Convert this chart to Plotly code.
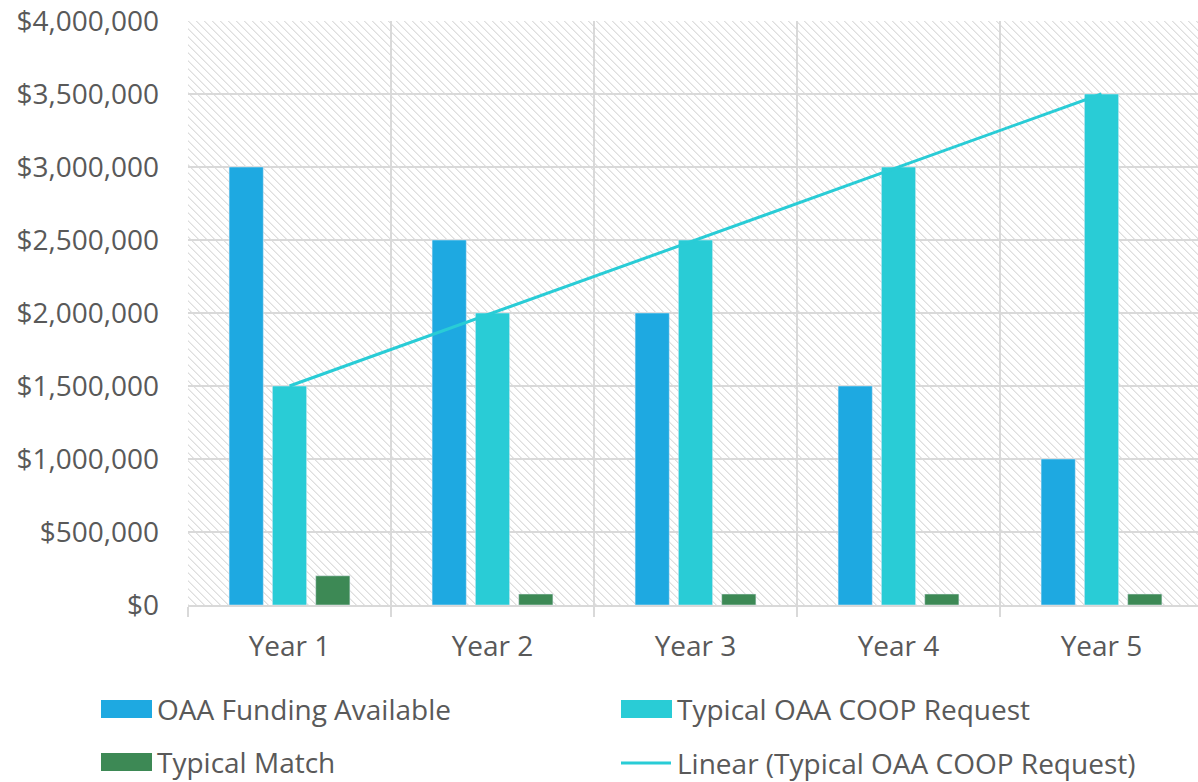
import base64
import numpy as np
import plotly.graph_objects as go

years = ["Year 1", "Year 2", "Year 3", "Year 4", "Year 5"]
oaa_funding = [3000000, 2500000, 2000000, 1500000, 1000000]
coop_request = [1500000, 2000000, 2500000, 3000000, 3500000]
typical_match = [200000, 75000, 75000, 75000, 75000]

BLUE = "#1EA9E1"
CYAN = "#29CCD6"
GREEN = "#3D8955"
GRID = "#D9D9D9"
TEXT = "#595959"
FONT = "Open Sans"

W, H = 1198, 782
L, R, T, B = 188, 0, 21, 177
PW, PH = W - L - R, H - T - B
CAT_W = 203  # pixel width of one category in the reference

# linear trendline computed from the request series
xi = np.arange(len(coop_request))
k, b0 = np.polyfit(xi, coop_request, 1)
trend = list(k * xi + b0)

fig = go.Figure()
fig.add_bar(x=years, y=oaa_funding, name="OAA Funding Available", marker_color=BLUE, showlegend=False)
fig.add_bar(x=years, y=coop_request, name="Typical OAA COOP Request", marker_color=CYAN, showlegend=False)
fig.add_bar(x=years, y=typical_match, name="Typical Match", marker_color=GREEN, showlegend=False)
fig.add_scatter(x=years, y=trend, mode="lines", name="Linear (Typical OAA COOP Request)",
                line=dict(color=CYAN, width=3), showlegend=False)

# hatched plot-area background
rects = []
for i in range(8):
    rects.append(f'<rect x="{i}" y="{i}" width="1" height="1" fill="#DEDEDE"/>')
    rects.append(f'<rect x="{(i+1)%8}" y="{i}" width="1" height="1" fill="#EDEDED"/>')
svg = (f'<svg xmlns="http://www.w3.org/2000/svg" width="{PW}" height="{PH}" shape-rendering="crispEdges">'
       f'<defs><pattern id="p" width="8" height="8" patternUnits="userSpaceOnUse">{"".join(rects)}</pattern></defs>'
       f'<rect width="{PW}" height="{PH}" fill="url(#p)"/></svg>')
src = "data:image/svg+xml;base64," + base64.b64encode(svg.encode()).decode()
fig.add_layout_image(source=src, xref="paper", yref="paper", x=0, y=1, sizex=1, sizey=1,
                     sizing="stretch", xanchor="left", yanchor="top", layer="below")

def px(xp):
    return (xp - L) / PW

def py(yp):
    return (H - B - yp) / PH

# custom legend
legend_items = [
    ("bar", BLUE, "OAA Funding Available", 101, 709),
    ("bar", CYAN, "Typical OAA COOP Request", 621, 709),
    ("bar", GREEN, "Typical Match", 101, 762),
    ("line", CYAN, "Linear (Typical OAA COOP Request)", 621, 763),
]
for kind, col, label, x0, yc in legend_items:
    if kind == "bar":
        fig.add_shape(type="rect", xref="paper", yref="paper", x0=px(x0), x1=px(x0 + 51),
                      y0=py(yc - 9), y1=py(yc + 9), fillcolor=col, line_width=0)
    else:
        fig.add_shape(type="line", xref="paper", yref="paper", x0=px(x0), x1=px(x0 + 50),
                      y0=py(yc), y1=py(yc), line=dict(color=col, width=3))
    fig.add_annotation(text=label, xref="paper", yref="paper", x=px(x0 + 54), y=py(yc),
                       xanchor="left", yanchor="middle", showarrow=False,
                       font=dict(family=FONT, size=28, color=TEXT))

fig.update_layout(
    width=W, height=H,
    margin=dict(l=L, r=R, t=T, b=B),
    paper_bgcolor="white", plot_bgcolor="white",
    barmode="group", bargap=0.36, bargroupgap=0.21,
    font=dict(family=FONT, color=TEXT, size=28),
)
fig.update_xaxes(type="category", range=[-0.5, -0.5 + PW / CAT_W],
                 tickson="boundaries", showgrid=True, gridcolor=GRID, gridwidth=2,
                 showline=True, linecolor=GRID, linewidth=2, ticks="outside", ticklen=10,
                 tickcolor=GRID, tickwidth=2, tickfont=dict(size=28, color=TEXT, family=FONT),
                 ticklabelstandoff=15)
fig.update_yaxes(range=[0, 4000000], dtick=500000, tickformat="$,.0f", showgrid=True,
                 gridcolor=GRID, gridwidth=2, zeroline=False, showline=False,
                 tickfont=dict(size=28, color=TEXT, family=FONT), ticklabelstandoff=28)

fig.write_html("out.html", config={"displayModeBar": False},
               post_script="document.body.style.margin='0';document.body.style.overflow='hidden';")
